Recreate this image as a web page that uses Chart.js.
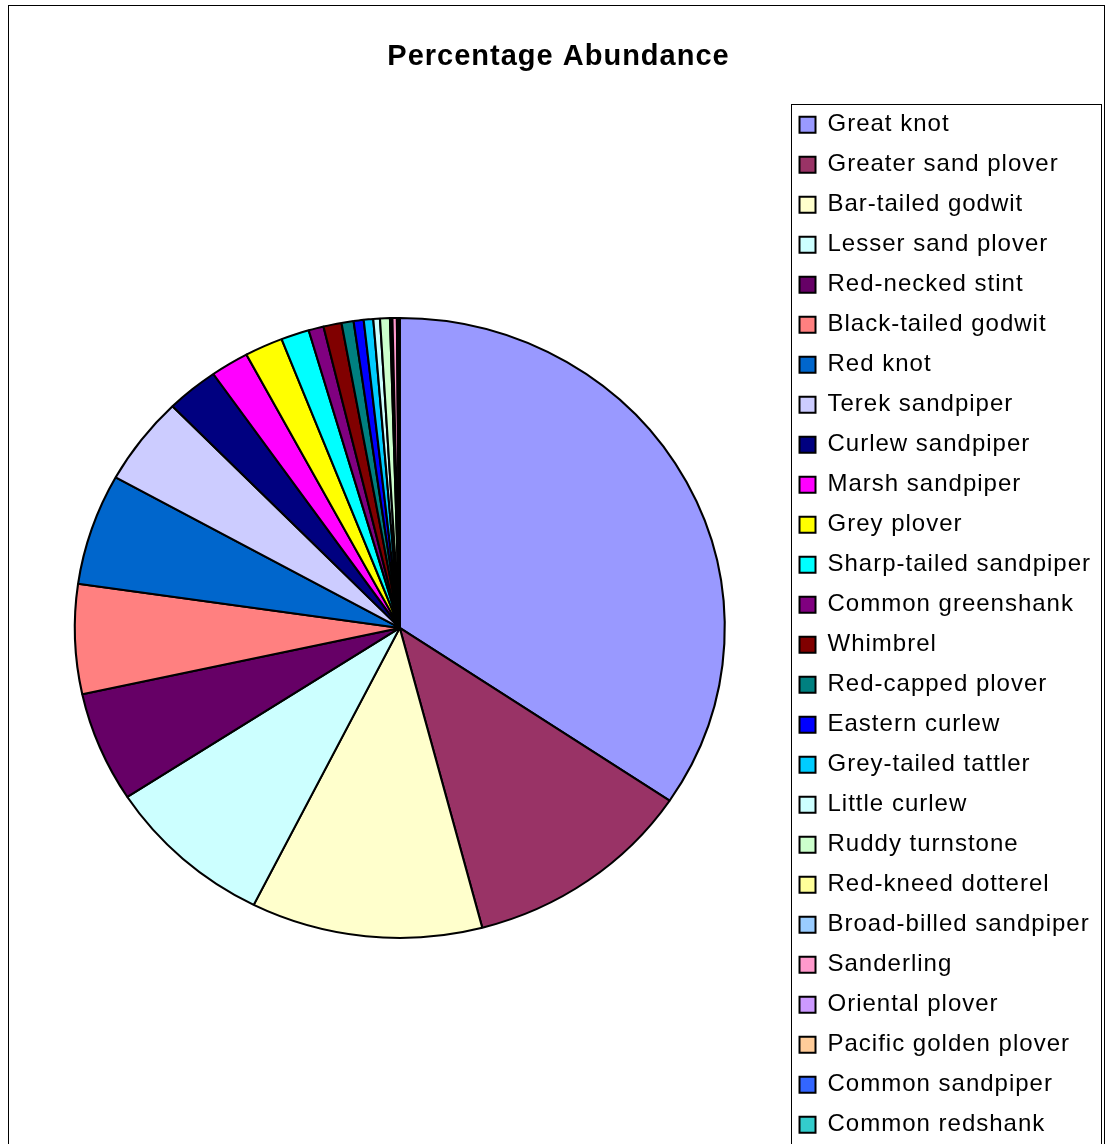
<!DOCTYPE html>
<html>
<head>
<meta charset="utf-8">
<title>Percentage Abundance</title>
<script src="https://cdn.jsdelivr.net/npm/chart.js@4.4.0/dist/chart.umd.min.js"></script>
<style>
  html, body { margin: 0; padding: 0; background: #fff; overflow: hidden; }
  #frame { position: absolute; left: 8px; top: 5px; width: 1095px; height: 1200px; border: 1px solid #000; }
  #frame canvas { display: block; }
</style>
</head>
<body>
<div id="frame"><canvas id="abundanceChart" width="1095" height="1160"></canvas></div>
<script>
// Shorebird counts, share of total (%)
const species = [
  'Great knot', 'Greater sand plover', 'Bar-tailed godwit', 'Lesser sand plover',
  'Red-necked stint', 'Black-tailed godwit', 'Red knot', 'Terek sandpiper',
  'Curlew sandpiper', 'Marsh sandpiper', 'Grey plover', 'Sharp-tailed sandpiper',
  'Common greenshank', 'Whimbrel', 'Red-capped plover', 'Eastern curlew',
  'Grey-tailed tattler', 'Little curlew', 'Ruddy turnstone', 'Red-kneed dotterel',
  'Broad-billed sandpiper', 'Sanderling', 'Oriental plover', 'Pacific golden plover',
  'Common sandpiper', 'Common redshank'
];

const abundance = [
  34.4, 11.5, 11.5, 8.4,
  5.75, 5.7, 5.8, 4.6,
  2.6, 1.9, 1.9, 1.4,
  0.75, 0.9, 0.6, 0.5,
  0.47, 0.33, 0.49, 0.06,
  0.06, 0.22, 0.04, 0.04,
  0.03, 0.03
];

const sliceColours = [
  '#9999FF', '#993366', '#FFFFCC', '#CCFFFF',
  '#660066', '#FF8080', '#0066CC', '#CCCCFF',
  '#000080', '#FF00FF', '#FFFF00', '#00FFFF',
  '#800080', '#800000', '#008080', '#0000FF',
  '#00CCFF', '#CCFFFF', '#CCFFCC', '#FFFF99',
  '#99CCFF', '#FF99CC', '#CC99FF', '#FFCC99',
  '#3366FF', '#33CCCC'
];

// the pie is drawn a little wider than tall
const PIE_STRETCH_X = 325 / 310;

const stretchPie = {
  id: 'stretchPie',
  beforeDatasetsDraw(chart) {
    const arc = chart.getDatasetMeta(0).data[0];
    const ctx = chart.ctx;
    ctx.save();
    ctx.translate(arc.x, 0);
    ctx.scale(PIE_STRETCH_X, 1);
    ctx.translate(-arc.x, 0);
  },
  afterDatasetsDraw(chart) {
    chart.ctx.restore();
  }
};

// slightly spaced lettering, set before measuring and before drawing
const textSpacing = {
  id: 'textSpacing',
  beforeLayout(chart) { chart.ctx.letterSpacing = '1px'; },
  beforeDraw(chart) { chart.ctx.letterSpacing = '1px'; }
};

// box round the legend
const legendFrame = {
  id: 'legendFrame',
  afterDraw(chart) {
    const lg = chart.legend;
    const pad = lg.options.labels.padding;
    const ctx = chart.ctx;
    const x0 = Math.round(lg.left + pad - 9);
    ctx.save();
    ctx.strokeStyle = '#000';
    ctx.lineWidth = 1;
    ctx.strokeRect(x0 + 0.5, Math.round(lg.top + 7) + 0.5, Math.round(lg.right) - x0, chart.height);
    ctx.restore();
  }
};

const ctx = document.getElementById('abundanceChart');

new Chart(ctx, {
  type: 'pie',
  data: {
    labels: species,
    datasets: [{
      data: abundance,
      backgroundColor: sliceColours,
      borderColor: '#000',
      borderWidth: 2
    }]
  },
  options: {
    responsive: false,
    animation: false,
    radius: 310,
    layout: {
      padding: { left: 7, right: 3, top: 0, bottom: 7 }
    },
    plugins: {
      title: {
        display: true,
        text: 'Percentage Abundance',
        color: '#000',
        font: { family: '"Liberation Sans", Arial, sans-serif', size: 29, weight: 'bold' },
        padding: { top: 34, bottom: 22 }
      },
      legend: {
        position: 'right',
        align: 'start',
        fullSize: false,
        labels: {
          color: '#000',
          boxWidth: 16,
          boxHeight: 16,
          padding: 16,
          font: { family: '"Liberation Sans", Arial, sans-serif', size: 24 }
        }
      },
      tooltip: { enabled: false }
    }
  },
  plugins: [textSpacing, stretchPie, legendFrame]
});
</script>
</body>
</html>
